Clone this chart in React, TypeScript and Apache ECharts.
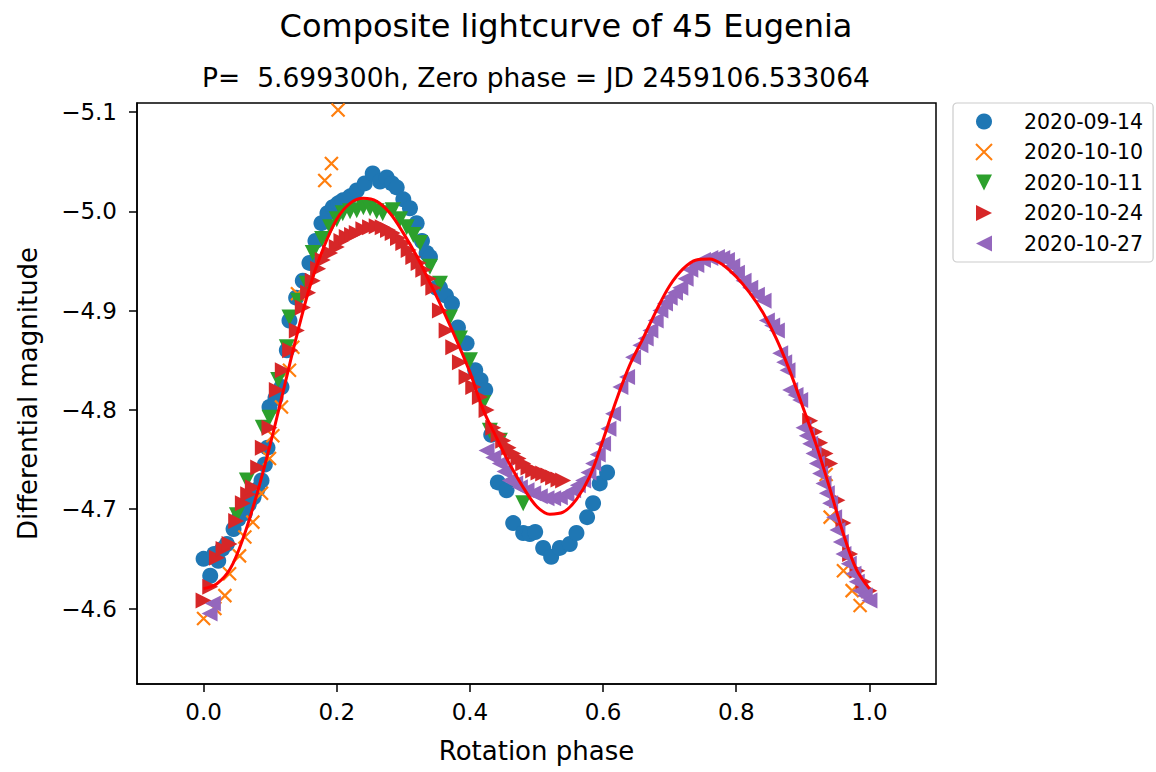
import React, { useEffect, useRef } from "react";
import * as echarts from "echarts";

const FONT = "DejaVu Sans";

const titleText = "Composite lightcurve of 45 Eugenia";
const subtitleText = "P=  5.699300h, Zero phase = JD 2459106.533064";
const xName = "Rotation phase";
const yName = "Differential magnitude";

const xTicks = [0.0, 0.2, 0.4, 0.6, 0.8, 1.0];
const yTicks = [-5.1, -5.0, -4.9, -4.8, -4.7, -4.6];

const seriesNames = ["2020-09-14", "2020-10-10", "2020-10-11", "2020-10-24", "2020-10-27"];
const seriesColors = ["#1f77b4", "#ff7f0e", "#2ca02c", "#d62728", "#9467bd"];

const sep14: number[][] = [
  [0.0, -4.65], [0.01, -4.633], [0.016, -4.655], [0.022, -4.648], [0.028, -4.66], [0.035, -4.665],
  [0.045, -4.68], [0.052, -4.69], [0.062, -4.696], [0.068, -4.705], [0.075, -4.712], [0.081, -4.72],
  [0.087, -4.729], [0.092, -4.745], [0.096, -4.762], [0.099, -4.803], [0.108, -4.812], [0.117, -4.823],
  [0.125, -4.86], [0.129, -4.89], [0.139, -4.913], [0.149, -4.93], [0.159, -4.948], [0.168, -4.97],
  [0.177, -4.988], [0.186, -4.998], [0.194, -5.004], [0.202, -5.008], [0.209, -5.011], [0.22, -5.015],
  [0.23, -5.021], [0.242, -5.028], [0.254, -5.038], [0.265, -5.03], [0.275, -5.034], [0.283, -5.028],
  [0.29, -5.024], [0.3, -5.012], [0.31, -5.003], [0.32, -4.988], [0.328, -4.97], [0.335, -4.958],
  [0.34, -4.954], [0.35, -4.923], [0.355, -4.923], [0.364, -4.915], [0.373, -4.907], [0.382, -4.883],
  [0.395, -4.867], [0.408, -4.84], [0.416, -4.83], [0.423, -4.82], [0.432, -4.775], [0.442, -4.727],
  [0.455, -4.719], [0.465, -4.686], [0.48, -4.676], [0.49, -4.675], [0.498, -4.677], [0.51, -4.661],
  [0.522, -4.652], [0.535, -4.661], [0.55, -4.665], [0.56, -4.676], [0.576, -4.692], [0.585, -4.706],
  [0.595, -4.726], [0.606, -4.737],
];

const oct10: number[][] = [
  [0.0, -4.59], [0.017, -4.6], [0.032, -4.613], [0.039, -4.635], [0.054, -4.653], [0.062, -4.672],
  [0.074, -4.687], [0.087, -4.716], [0.099, -4.751], [0.104, -4.774], [0.117, -4.803], [0.129, -4.84],
  [0.134, -4.863], [0.141, -4.917], [0.182, -5.031], [0.192, -5.048], [0.202, -5.102],
  [0.929, -4.752], [0.935, -4.735], [0.941, -4.692], [0.961, -4.638], [0.974, -4.618], [0.986, -4.603],
];

const oct11: number[][] = [
  [0.05, -4.694], [0.065, -4.729], [0.089, -4.782], [0.099, -4.792], [0.112, -4.83], [0.125, -4.863],
  [0.129, -4.893], [0.142, -4.91], [0.155, -4.927], [0.164, -4.958], [0.178, -4.972], [0.19, -4.984],
  [0.2, -4.992], [0.209, -4.998], [0.22, -5.0], [0.23, -5.001], [0.24, -5.004], [0.25, -5.003],
  [0.26, -5.0], [0.269, -4.998], [0.284, -5.001], [0.295, -4.992], [0.305, -4.984], [0.315, -4.976],
  [0.325, -4.968], [0.34, -4.944], [0.355, -4.927], [0.37, -4.893], [0.385, -4.872], [0.4, -4.85],
  [0.42, -4.807], [0.43, -4.779], [0.445, -4.769], [0.48, -4.706],
];

const oct24: number[][] = [
  [0.0, -4.608], [0.01, -4.622], [0.02, -4.651], [0.03, -4.66], [0.039, -4.665], [0.049, -4.688],
  [0.059, -4.706], [0.067, -4.715], [0.074, -4.722], [0.082, -4.742], [0.089, -4.762], [0.099, -4.782],
  [0.11, -4.82], [0.119, -4.84], [0.13, -4.86], [0.14, -4.88], [0.149, -4.903], [0.157, -4.918],
  [0.164, -4.93], [0.172, -4.942], [0.179, -4.951], [0.19, -4.958], [0.2, -4.964], [0.207, -4.97],
  [0.215, -4.974], [0.223, -4.976], [0.23, -4.978], [0.24, -4.982], [0.25, -4.984], [0.26, -4.985],
  [0.269, -4.984], [0.277, -4.981], [0.284, -4.978], [0.292, -4.973], [0.3, -4.968], [0.308, -4.961],
  [0.315, -4.954], [0.323, -4.948], [0.33, -4.941], [0.338, -4.932], [0.345, -4.923], [0.355, -4.9],
  [0.365, -4.88], [0.375, -4.863], [0.385, -4.848], [0.395, -4.833], [0.405, -4.823], [0.415, -4.813],
  [0.425, -4.8], [0.435, -4.782], [0.443, -4.775], [0.45, -4.769], [0.458, -4.762], [0.465, -4.756],
  [0.473, -4.751], [0.48, -4.746], [0.488, -4.742], [0.495, -4.739], [0.503, -4.737], [0.51, -4.736],
  [0.518, -4.734], [0.525, -4.732], [0.533, -4.73], [0.54, -4.729],
  [0.911, -4.789], [0.918, -4.778], [0.926, -4.767], [0.934, -4.756], [0.941, -4.746], [0.952, -4.709],
  [0.961, -4.686], [0.971, -4.655], [0.982, -4.638], [0.991, -4.627], [1.0, -4.618],
];

const oct27: number[][] = [
  [0.009, -4.595], [0.014, -4.605],
  [0.425, -4.759], [0.435, -4.752], [0.445, -4.746], [0.452, -4.738], [0.46, -4.729], [0.468, -4.726],
  [0.475, -4.722], [0.485, -4.719], [0.495, -4.716], [0.505, -4.713], [0.515, -4.711], [0.525, -4.711],
  [0.535, -4.712], [0.545, -4.715], [0.555, -4.719], [0.562, -4.724], [0.57, -4.729], [0.578, -4.737],
  [0.585, -4.746], [0.592, -4.755], [0.6, -4.766], [0.608, -4.781], [0.615, -4.796], [0.626, -4.823],
  [0.636, -4.833], [0.645, -4.853], [0.656, -4.865], [0.664, -4.872], [0.671, -4.88], [0.679, -4.89],
  [0.686, -4.9], [0.693, -4.907], [0.7, -4.913], [0.708, -4.918], [0.716, -4.923], [0.724, -4.932],
  [0.731, -4.941], [0.74, -4.946], [0.75, -4.951], [0.761, -4.953], [0.771, -4.954], [0.779, -4.953],
  [0.786, -4.951], [0.794, -4.945], [0.801, -4.938], [0.811, -4.93], [0.821, -4.923], [0.831, -4.916],
  [0.841, -4.91], [0.846, -4.89], [0.854, -4.885], [0.861, -4.88], [0.866, -4.857], [0.872, -4.848],
  [0.877, -4.84], [0.881, -4.82], [0.889, -4.815], [0.896, -4.81], [0.901, -4.782], [0.906, -4.774],
  [0.911, -4.766], [0.916, -4.756], [0.921, -4.746], [0.926, -4.736], [0.931, -4.726], [0.936, -4.716],
  [0.941, -4.706], [0.947, -4.692], [0.952, -4.679], [0.957, -4.667], [0.961, -4.655], [0.969, -4.645],
  [0.976, -4.635], [0.981, -4.627], [0.986, -4.618], [0.993, -4.613], [1.0, -4.608],
];

const fitPhase = [
  0.0, 0.02, 0.04, 0.06, 0.08, 0.1, 0.12, 0.14, 0.16, 0.18, 0.2, 0.22, 0.24, 0.26, 0.28, 0.3, 0.32, 0.34,
  0.36, 0.38, 0.4, 0.42, 0.44, 0.46, 0.48, 0.5, 0.52, 0.54, 0.56, 0.58, 0.6, 0.62, 0.64, 0.66, 0.68, 0.7,
  0.72, 0.74, 0.76, 0.78, 0.8, 0.82, 0.84, 0.86, 0.88, 0.9, 0.92, 0.94, 0.96, 0.98, 1.0,
];
const fitMag = [
  -4.62, -4.625, -4.64, -4.672, -4.715, -4.765, -4.82, -4.875, -4.925, -4.963, -4.992, -5.008, -5.013,
  -5.01, -4.998, -4.978, -4.955, -4.928, -4.9, -4.87, -4.838, -4.8, -4.772, -4.745, -4.722, -4.703,
  -4.695, -4.697, -4.71, -4.733, -4.77, -4.81, -4.845, -4.872, -4.9, -4.925, -4.942, -4.951, -4.952,
  -4.946, -4.934, -4.918, -4.898, -4.872, -4.84, -4.803, -4.765, -4.722, -4.677, -4.64, -4.62,
];

const SYM_X = "path://M0,0L10,10M10,0L0,10";
const SYM_DOWN = "path://M0,0L10,0L5,10Z";
const SYM_RIGHT = "path://M0,0L10,5L0,10Z";
const SYM_LEFT = "path://M10,0L0,5L10,10Z";

const minus = (v: number) => (v < 0 ? "\u2212" : "") + Math.abs(v).toFixed(1);

export default function App() {
  const ref = useRef<HTMLDivElement>(null);
  useEffect(() => {
    if (!ref.current) return;
    const chart = echarts.init(ref.current, null, { renderer: "svg" });
    const scatter = (i: number, data: number[][], symbol: string, size: number, extra: any = {}) => ({
      type: "scatter",
      name: seriesNames[i],
      data,
      symbol,
      symbolSize: size,
      itemStyle: { color: seriesColors[i], opacity: 1, ...extra },
      emphasis: { disabled: true },
    });
    chart.setOption({
      animation: false,
      backgroundColor: "#ffffff",
      textStyle: { fontFamily: FONT, color: "#000" },
      title: [
        {
          text: titleText,
          left: 566,
          top: 10,
          padding: 0,
          textAlign: "center",
          textStyle: { fontFamily: FONT, fontSize: 32, fontWeight: "normal", color: "#000" },
        },
        {
          text: subtitleText,
          left: 536,
          top: 64,
          padding: 0,
          textAlign: "center",
          textStyle: { fontFamily: FONT, fontSize: 26.5, fontWeight: "normal", color: "#000" },
        },
      ],
      grid: {
        left: 137,
        top: 103,
        right: 220,
        bottom: 88,
        show: true,
        borderColor: "#000",
        borderWidth: 1.5,
        backgroundColor: "transparent",
      },
      legend: {
        data: seriesNames,
        orient: "vertical",
        left: 953,
        top: 103,
        padding: [8, 10, 8, 22],
        itemWidth: 16,
        itemHeight: 16,
        itemGap: 9.5,
        borderColor: "#cccccc",
        borderWidth: 1.2,
        borderRadius: 4,
        backgroundColor: "#ffffff",
        textStyle: { fontFamily: FONT, fontSize: 20.5, color: "#000", lineHeight: 20, padding: [0, 0, 0, 27] },
        selectedMode: false,
      },
      xAxis: {
        type: "value",
        min: -0.1,
        max: 1.1,
        name: xName,
        nameLocation: "middle",
        nameGap: 54,
        nameTextStyle: { fontFamily: FONT, fontSize: 26, color: "#000" },
        axisLine: { show: true, onZero: false, lineStyle: { color: "#000", width: 1.5 } },
        axisTick: { show: true, length: 8, lineStyle: { color: "#000", width: 1.5 }, customValues: xTicks },
        axisLabel: {
          fontFamily: FONT,
          fontSize: 23,
          color: "#000",
          margin: 16,
          customValues: xTicks,
          formatter: (v: number) => v.toFixed(1),
        },
        splitLine: { show: false },
      },
      yAxis: {
        type: "value",
        inverse: true,
        min: -5.109,
        max: -4.524,
        name: yName,
        nameLocation: "middle",
        nameRotate: 90,
        nameGap: 96,
        nameTextStyle: { fontFamily: FONT, fontSize: 26, color: "#000" },
        axisLine: { show: true, onZero: false, lineStyle: { color: "#000", width: 1.5 } },
        axisTick: { show: true, length: 8, lineStyle: { color: "#000", width: 1.5 }, customValues: yTicks },
        axisLabel: {
          fontFamily: FONT,
          fontSize: 23,
          color: "#000",
          margin: 20,
          customValues: yTicks,
          formatter: (v: number) => minus(v),
        },
        splitLine: { show: false },
      },
      series: [
        scatter(0, sep14, "circle", 16),
        scatter(1, oct10, SYM_X, 13, { borderColor: seriesColors[1], borderWidth: 2.2 }),
        scatter(2, oct11, SYM_DOWN, 16),
        scatter(3, oct24, SYM_RIGHT, 16),
        scatter(4, oct27, SYM_LEFT, 16),
        {
          type: "line",
          name: "fit",
          data: fitPhase.map((p, i) => [p, fitMag[i]]),
          showSymbol: false,
          symbol: "none",
          smooth: 0.35,
          lineStyle: { color: "#ff0000", width: 3 },
          emphasis: { disabled: true },
          z: 5,
        },
      ],
    });
    return () => chart.dispose();
  }, []);
  return <div ref={ref} style={{ position: "absolute", left: 0, top: 0, width: 1156, height: 772 }} />;
}
